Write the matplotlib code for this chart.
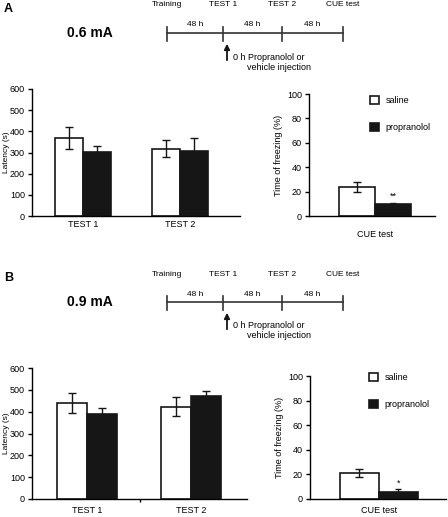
import numpy as np
import matplotlib
matplotlib.use("Agg")
import matplotlib.pyplot as plt

plt.rcParams['font.family'] = ['Liberation Sans', 'DejaVu Sans']

W, H = 448, 517

groups = ['TEST 1', 'TEST 2']
treatments = ['saline', 'propranolol']
stages = ['Training', 'TEST 1', 'TEST 2', 'CUE test']
intervals = ['48 h', '48 h', '48 h']

# panel A (0.6 mA)
lat_a_saline = [370, 318]
lat_a_saline_err = [52, 40]
lat_a_prop = [302, 308]
lat_a_prop_err = [30, 60]
frz_a = [23.5, 9.5]
frz_a_err = [4.0, 1.2]
stars_a = '**'

# panel B (0.9 mA)
lat_b_saline = [440, 422]
lat_b_saline_err = [47, 43]
lat_b_prop = [390, 470]
lat_b_prop_err = [28, 25]
frz_b = [21, 6]
frz_b_err = [3.5, 2.0]
stars_b = '*'

BLACK = '#161616'


def px_axes(fig, left, top, right, bottom):
    return fig.add_axes([left / W, 1 - bottom / H, (right - left) / W, (bottom - top) / H])


def style(ax, xpad):
    for s in ['top', 'right']:
        ax.spines[s].set_visible(False)
    ax.spines['left'].set_linewidth(1.0)
    ax.spines['bottom'].set_linewidth(1.0)
    ax.tick_params(axis='y', labelsize=6.5, length=3, width=1, pad=2)
    ax.tick_params(axis='x', labelsize=6.5, length=0, pad=xpad)


def latency(ax, sal, sal_err, prop, prop_err, xlim, xpad):
    x = np.arange(len(groups))
    w = 0.29
    ax.bar(x - w / 2, sal, w, color='white', edgecolor=BLACK, linewidth=1.2,
           yerr=sal_err, capsize=3, error_kw=dict(elinewidth=1, capthick=1, ecolor=BLACK))
    ax.bar(x + w / 2, prop, w, color=BLACK, edgecolor=BLACK, linewidth=1.2,
           yerr=prop_err, capsize=3, error_kw=dict(elinewidth=1, capthick=1, ecolor=BLACK))
    ax.set_xlim(*xlim)
    ax.set_ylim(0, 600)
    ax.set_yticks(range(0, 601, 100))
    ax.set_xticks(x)
    ax.set_xticklabels(groups)
    ax.set_ylabel('Latency (s)', fontsize=6)
    style(ax, xpad)
    ax.yaxis.set_label_coords(-22 / ax.bbox.width, 0.5)


def freezing(ax, vals, errs, stars, xlim, xpad, leg_xy):
    w = 1.0
    ax.bar([-w / 2], [vals[0]], w, color='white', edgecolor=BLACK, linewidth=1.2,
           yerr=[errs[0]], capsize=3, error_kw=dict(elinewidth=1, capthick=1, ecolor=BLACK),
           label=treatments[0])
    ax.bar([w / 2], [vals[1]], w, color=BLACK, edgecolor=BLACK, linewidth=1.2,
           yerr=[errs[1]], capsize=2, error_kw=dict(elinewidth=1, capthick=1, ecolor=BLACK),
           label=treatments[1])
    ax.text(w / 2, vals[1] + errs[1] + 1.5, stars, ha='center', va='bottom', fontsize=6.5)
    ax.set_xlim(*xlim)
    ax.set_ylim(0, 100)
    ax.set_yticks(range(0, 101, 20))
    ax.set_xticks([0])
    ax.set_xticklabels(['CUE test'])
    ax.set_ylabel('Time of freezing (%)', fontsize=6.5, labelpad=3)
    style(ax, xpad)
    ax.legend(loc='upper left', bbox_to_anchor=leg_xy, frameon=False, fontsize=6.5,
              handlelength=1.0, handleheight=1.0, labelspacing=2.0, handletextpad=0.7)


def timeline(ov, y0, letter, current):
    ov.text(4, y0 - 24, letter, fontsize=9, fontweight='bold', va='center', ha='left')
    ov.text(67, y0, current, fontsize=10, fontweight='bold', va='center', ha='left')
    xs = [167, 223, 282, 343]
    ov.plot([xs[0], xs[-1]], [y0, y0], color='#333333', lw=1.2)
    for xx, name in zip(xs, stages):
        ov.plot([xx, xx], [y0 - 6, y0 + 8], color='#333333', lw=1.2)
        ov.text(xx, y0 - 28, name, fontsize=6, ha='center', va='center')
    for i, lab in enumerate(intervals):
        ov.text((xs[i] + xs[i + 1]) / 2, y0 - 8, lab, fontsize=6, ha='center', va='center')
    ov.annotate('', xy=(227, y0 + 8), xytext=(227, y0 + 30),
                arrowprops=dict(arrowstyle='-|>', color=BLACK, lw=1.3, mutation_scale=8))
    ov.text(233, y0 + 24, '0 h Propranolol or', fontsize=6.5, ha='left', va='center')
    ov.text(247, y0 + 34, 'vehicle injection', fontsize=6.5, ha='left', va='center')


fig = plt.figure(figsize=(W / 100, H / 100), dpi=100)

ov = fig.add_axes([0, 0, 1, 1])
ov.set_xlim(0, W)
ov.set_ylim(H, 0)
ov.axis('off')
timeline(ov, 33, 'A', '0.6 mA')
timeline(ov, 302, 'B', '0.9 mA')

ax1 = px_axes(fig, 32, 89, 240, 216)
latency(ax1, lat_a_saline, lat_a_saline_err, lat_a_prop, lat_a_prop_err, (-0.53, 1.62), 3)
ax2 = px_axes(fig, 309, 94, 435, 216)
freezing(ax2, frz_a, frz_a_err, stars_a, (-1.83, 1.67), 10, (0.42, 1.05))

ax3 = px_axes(fig, 32, 368, 247, 499)
latency(ax3, lat_b_saline, lat_b_saline_err, lat_b_prop, lat_b_prop_err, (-0.53, 1.54), 5)
ax3.set_xticks([0.51], minor=True)
ax3.tick_params(axis='x', which='minor', length=2, width=1)
ax4 = px_axes(fig, 310, 376, 446, 499)
freezing(ax4, frz_b, frz_b_err, stars_b, (-1.77, 1.72), 5, (0.375, 1.09))

fig.savefig('out.png', dpi=100)
